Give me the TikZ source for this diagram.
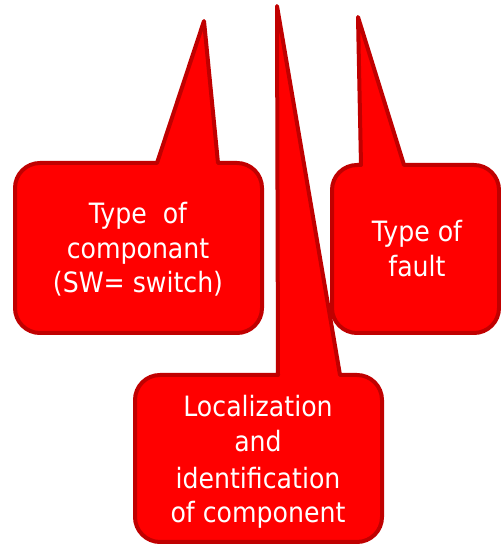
\documentclass[tikz,border=0pt]{standalone}
\usepackage{fontspec}
\setmainfont{DejaVu Sans}[FakeStretch=0.9]
\begin{document}
\begin{tikzpicture}[x=1pt,y=1pt,
  callout/.style={fill=red, draw=calloutborder, line width=4pt, line join=round},
  calltext/.style={text=white, align=center, font=\fontsize{28}{35}\selectfont, anchor=base}]
\definecolor{calloutborder}{HTML}{C00000}
\useasboundingbox (0,0) rectangle (501,544);
% left callout: box L=15 R=262 T=381 B=211
\draw[callout] (157,381) -- (204,523) -- (218,381) -- (237,381) arc(90:0:25)
  -- (262,236) arc(0:-90:25) -- (40,211) arc(270:180:25) -- (15,356) arc(180:90:25) -- cycle;
% right callout: box L=332 R=499 T=379 B=211
\draw[callout] (361,379) -- (358,527) -- (404,379) -- (474,379) arc(90:0:25)
  -- (499,236) arc(0:-90:25) -- (357,211) arc(270:180:25) -- (332,354) arc(180:90:25) -- cycle;
% bottom callout: box L=135 R=382 T=169 B=2
\draw[callout] (278,169) -- (277,538) -- (340,169) -- (357,169) arc(90:0:25)
  -- (382,27) arc(0:-90:25) -- (160,2) arc(270:180:25) -- (135,144) arc(180:90:25) -- cycle;
\node[calltext] (comp) at (138,320) {Type~ of};
\node[calltext] (comp2) at (138,285) {componant};
\node[calltext] (comp3) at (138,251) {(SW= switch)};
\node[calltext] (fault) at (417,302) {Type of};
\node[calltext] (fault2) at (417,267) {fault};
\node[calltext] (loc) at (258,127) {Localization};
\node[calltext] (loc2) at (258,92) {and};
\node[calltext] (loc3) at (258,56) {identification};
\node[calltext] (loc4) at (258,21) {of component};
\end{tikzpicture}
\end{document}
